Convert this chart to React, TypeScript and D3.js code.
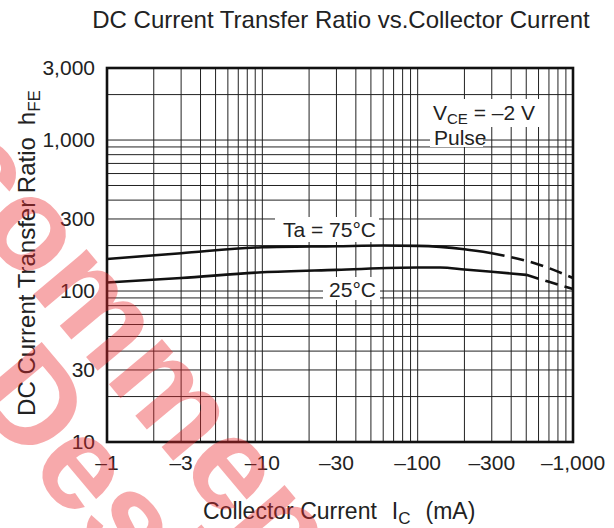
import React from "react";
import * as d3 from "d3";

// Ta = 75°C, measured part and extrapolated (dashed) part
const ic75 = [1, 3, 10, 30, 60, 100, 200, 300];
const hfe75 = [163, 178, 195, 198, 200, 199, 189, 178];
const ic75Dash = [300, 600, 1000];
const hfe75Dash = [178, 150, 122];

// Ta = 25°C
const ic25 = [1, 3, 10, 30, 100, 140, 200, 300, 500];
const hfe25 = [114, 122, 133, 138, 143, 143, 139, 134, 128];
const ic25Dash = [500, 700, 1000];
const hfe25Dash = [128, 115, 103];

const xTicks = [1, 3, 10, 30, 100, 300, 1000];
const xTickLabels = ["–1", "–3", "–10", "–30", "–100", "–300", "–1,000"];
const yTicks = [10, 30, 100, 300, 1000, 3000];
const yTickLabels = ["10", "30", "100", "300", "1,000", "3,000"];

const W = 614;
const H = 528;
const margin = { top: 68, right: 41, bottom: 86, left: 107 };
const FONT = "'Liberation Sans', Arial, Helvetica, sans-serif";

const App: React.FC = () => {
  const x = d3
    .scaleLog()
    .domain([1, 1000])
    .range([margin.left, W - margin.right]);
  const y = d3
    .scaleLog()
    .domain([10, 3000])
    .range([H - margin.bottom, margin.top]);

  const line = d3
    .line<[number, number]>()
    .x((d) => x(d[0]))
    .y((d) => y(d[1]))
    .curve(d3.curveMonotoneX);

  const zip = (a: number[], b: number[]) =>
    a.map((v, i) => [v, b[i]] as [number, number]);

  const [x0, x1] = x.range();
  const [y0, y1] = y.range();

  return (
    <svg
      width={W}
      height={H}
      style={{ position: "absolute", left: 0, top: 0, background: "#fff" }}
      fontFamily={FONT}
    >
      <text x={341} y={28} fontSize={24} textAnchor="middle" fill="#222">
        DC Current Transfer Ratio vs.Collector Current
      </text>

      {/* grid */}
      <g stroke="#222" strokeWidth={1}>
        {x.ticks().map((t, i) => (
          <line key={"gx" + i} x1={x(t)} x2={x(t)} y1={y1} y2={y0} />
        ))}
        {y.ticks().map((t, i) => (
          <line key={"gy" + i} x1={x0} x2={x1} y1={y(t)} y2={y(t)} />
        ))}
      </g>

      {/* white boxes behind the annotations */}
      <g fill="#fff">
        <rect x={275} y={217} width={104} height={25} />
        <rect x={323} y={277} width={57} height={23} />
        <rect x={430} y={99} width={113} height={28} />
        <rect x={430} y={127} width={53} height={20} />
      </g>

      <rect
        x={x0}
        y={y1}
        width={x1 - x0}
        height={y0 - y1}
        fill="none"
        stroke="#111"
        strokeWidth={2.6}
      />

      {/* curves */}
      <g fill="none" stroke="#111" strokeWidth={2.6}>
        <path d={line(zip(ic75, hfe75)) || ""} />
        <path d={line(zip(ic25, hfe25)) || ""} />
        <path d={line(zip(ic75Dash, hfe75Dash)) || ""} strokeDasharray="13,7" />
        <path d={line(zip(ic25Dash, hfe25Dash)) || ""} strokeDasharray="13,7" />
      </g>

      {/* annotations */}
      <g fontSize={21} fill="#222">
        <text x={376} y={237} textAnchor="end">Ta = 75°C</text>
        <text x={376} y={297} textAnchor="end">25°C</text>
        <text x={433} y={120}>
          V<tspan fontSize={15} dy={4}>CE</tspan>
          <tspan dy={-4}> = –2 V</tspan>
        </text>
        <text x={434} y={145}>Pulse</text>
      </g>

      {/* tick labels */}
      <g fontSize={21} fill="#222">
        {yTicks.map((t, i) => (
          <text key={"yl" + i} x={95} y={y(t) + 7} textAnchor="end">
            {yTickLabels[i]}
          </text>
        ))}
        {xTicks.map((t, i) => (
          <text key={"xl" + i} x={x(t)} y={470} textAnchor="middle">
            {xTickLabels[i]}
          </text>
        ))}
      </g>

      {/* axis titles */}
      <text x={203} y={519} fontSize={23} fill="#222">
        Collector Current
        <tspan dx={15}>I</tspan>
        <tspan fontSize={17} dy={5}>C</tspan>
        <tspan dx={15} dy={-5}>(mA)</tspan>
      </text>
      <text
        transform="translate(35,253) rotate(-90)"
        fontSize={24}
        fill="#222"
        textAnchor="middle"
      >
        DC Current Transfer Ratio
        <tspan dx={12}>h</tspan>
        <tspan fontSize={17} dy={5}>FE</tspan>
      </text>

      {/* watermark */}
      <g
        transform="translate(-180,40) rotate(50)"
        fontSize={132}
        fontWeight="bold"
        fill="rgb(235,40,45)"
        fillOpacity={0.4}
      >
        <text x={0} y={0}>Recommended</text>
        <text x={365} y={115}>Design</text>
      </g>
    </svg>
  );
};

export default App;
